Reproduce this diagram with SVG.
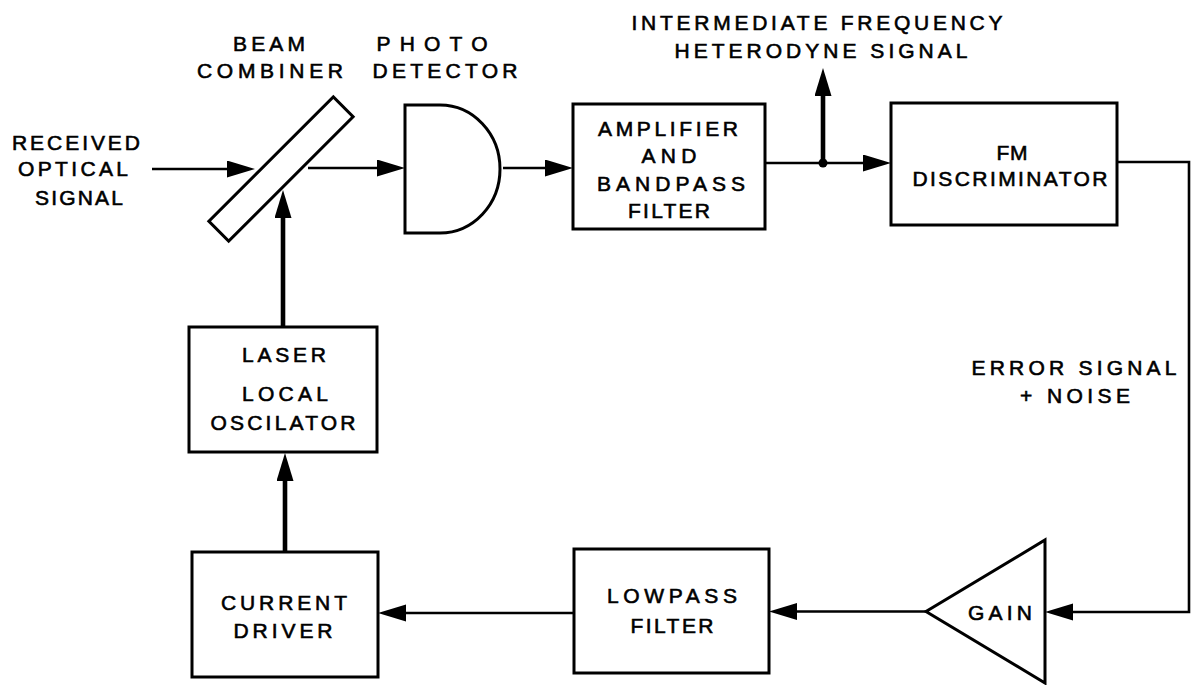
<svg xmlns="http://www.w3.org/2000/svg" width="1192" height="685" viewBox="0 0 1192 685">
<style>
  .bg{fill:#fff}
  .box{fill:none;stroke:#000;stroke-width:3}
  .ln{fill:none;stroke:#000;stroke-width:2.6}
  .thick{fill:none;stroke:#000;stroke-width:4.6}
  .t{font-family:"Liberation Sans",Arial,sans-serif;font-size:21px;fill:#000;stroke:#000;stroke-width:0.6;text-anchor:middle}
</style>
<defs>
  <marker id="ah" markerUnits="userSpaceOnUse" markerWidth="30" markerHeight="18" refX="1" refY="8.5" orient="auto">
    <path d="M0,0 L28,8.5 L0,17 z" fill="#000"/>
  </marker>
</defs>
<rect class="bg" x="0" y="0" width="1192" height="685"/>

<g id="received-label">
  <text class="t" x="76" y="149.5" textLength="128" lengthAdjust="spacing">RECEIVED</text>
  <text class="t" x="73" y="175.5" textLength="110" lengthAdjust="spacing">OPTICAL</text>
  <text class="t" x="79" y="204.5" textLength="88" lengthAdjust="spacing">SIGNAL</text>
</g>

<g id="beam-combiner">
  <rect class="box" x="-88" y="-14" width="176" height="28" transform="translate(281,169) rotate(-45)"/>
  <text class="t" x="269" y="50.5" textLength="72" lengthAdjust="spacing">BEAM</text>
  <text class="t" x="270" y="77.5" textLength="146" lengthAdjust="spacing">COMBINER</text>
</g>

<g id="photo-detector">
  <path class="box" d="M440 105 L405 105 L405 233 L440 233 A60 64 0 0 0 440 105 Z"/>
  <text class="t" x="432" y="50.5" textLength="111" lengthAdjust="spacing">PHOTO</text>
  <text class="t" x="445" y="77.5" textLength="145" lengthAdjust="spacing">DETECTOR</text>
</g>

<g id="amplifier">
  <rect class="box" x="573" y="104" width="192" height="125"/>
  <text class="t" x="668" y="135.5" textLength="140" lengthAdjust="spacing">AMPLIFIER</text>
  <text class="t" x="669" y="162.5" textLength="55" lengthAdjust="spacing">AND</text>
  <text class="t" x="671" y="190.5" textLength="148" lengthAdjust="spacing">BANDPASS</text>
  <text class="t" x="669" y="217.5" textLength="82" lengthAdjust="spacing">FILTER</text>
</g>

<g id="if-label">
  <text class="t" x="817" y="29.5" textLength="371" lengthAdjust="spacing">INTERMEDIATE FREQUENCY</text>
  <text class="t" x="821" y="57.5" textLength="293" lengthAdjust="spacing">HETERODYNE SIGNAL</text>
</g>

<g id="fm-discriminator">
  <rect class="box" x="891" y="103" width="226" height="122"/>
  <text class="t" x="1012" y="159.5" textLength="31" lengthAdjust="spacing">FM</text>
  <text class="t" x="1010" y="185.5" textLength="195" lengthAdjust="spacing">DISCRIMINATOR</text>
</g>

<g id="error-label">
  <text class="t" x="1074" y="374.5" textLength="205" lengthAdjust="spacing">ERROR SIGNAL</text>
  <text class="t" x="1075" y="402.5" textLength="110" lengthAdjust="spacing">+ NOISE</text>
</g>

<g id="gain">
  <polygon class="box" points="1045,540 1045,683 926,611.5"/>
  <text class="t" x="1000" y="619.5" textLength="64" lengthAdjust="spacing">GAIN</text>
</g>

<g id="lowpass-filter">
  <rect class="box" x="574" y="549" width="195" height="124"/>
  <text class="t" x="672" y="602.5" textLength="130" lengthAdjust="spacing">LOWPASS</text>
  <text class="t" x="672" y="632.5" textLength="83" lengthAdjust="spacing">FILTER</text>
</g>

<g id="current-driver">
  <rect class="box" x="192" y="552" width="186" height="125"/>
  <text class="t" x="284" y="609.5" textLength="126" lengthAdjust="spacing">CURRENT</text>
  <text class="t" x="283" y="637.5" textLength="99" lengthAdjust="spacing">DRIVER</text>
</g>

<g id="laser-local-oscillator">
  <rect class="box" x="189" y="327" width="188" height="125"/>
  <text class="t" x="284" y="361.5" textLength="84" lengthAdjust="spacing">LASER</text>
  <text class="t" x="285" y="400.5" textLength="86" lengthAdjust="spacing">LOCAL</text>
  <text class="t" x="283" y="429.5" textLength="145" lengthAdjust="spacing">OSCILATOR</text>
</g>

<g id="connectors">
  <path class="ln" d="M152 169 H228" marker-end="url(#ah)"/>
  <path class="ln" d="M308 168 H378" marker-end="url(#ah)"/>
  <path class="thick" d="M283 327 V217" marker-end="url(#ah)"/>
  <path class="ln" d="M503 168 H546" marker-end="url(#ah)"/>
  <path class="ln" d="M765 163 H864" marker-end="url(#ah)"/>
  <path class="thick" d="M823 163 V95" marker-end="url(#ah)"/>
  <circle cx="823" cy="163" r="4.5" fill="#000"/>
  <path class="ln" d="M1117 162 H1189 V612 H1072" marker-end="url(#ah)"/>
  <path class="ln" d="M926 611.5 H796" marker-end="url(#ah)"/>
  <path class="ln" d="M574 613 H405" marker-end="url(#ah)"/>
  <path class="thick" d="M285 552 V480" marker-end="url(#ah)"/>
</g>
</svg>
